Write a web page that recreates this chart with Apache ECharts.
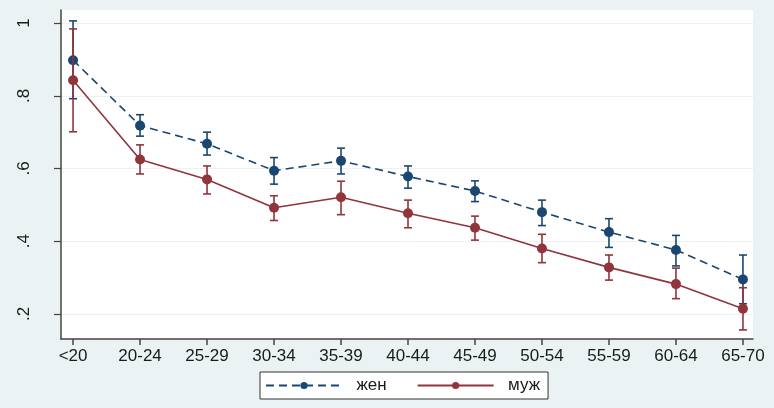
<!DOCTYPE html>
<html><head><meta charset="utf-8">
<script src="https://cdn.jsdelivr.net/npm/echarts@6/dist/echarts.min.js"></script>
<style>html,body{margin:0;padding:0;background:#eaf2f3}#c{width:774px;height:408px}</style>
</head><body><div id="c"></div>
<script>
const categories = ['<20','20-24','25-29','30-34','35-39','40-44','45-49','50-54','55-59','60-64','65-70'];
const yTicks = [0.2, 0.4, 0.6, 0.8, 1];
const yTickLabels = ['.2', '.4', '.6', '.8', '1'];
const seriesNames = ['жен', 'муж'];
const femMean = [0.898, 0.718, 0.668, 0.594, 0.621, 0.578, 0.538, 0.480, 0.425, 0.376, 0.295];
const femHigh = [1.006, 0.748, 0.700, 0.630, 0.656, 0.607, 0.566, 0.513, 0.462, 0.416, 0.362];
const femLow  = [0.792, 0.689, 0.637, 0.557, 0.585, 0.546, 0.509, 0.443, 0.383, 0.332, 0.228];
const maleMean = [0.843, 0.625, 0.570, 0.492, 0.521, 0.477, 0.437, 0.380, 0.328, 0.282, 0.214];
const maleHigh = [0.984, 0.665, 0.607, 0.525, 0.565, 0.513, 0.469, 0.419, 0.362, 0.326, 0.272];
const maleLow  = [0.701, 0.585, 0.530, 0.457, 0.473, 0.437, 0.403, 0.341, 0.293, 0.242, 0.156];

const BLUE = '#1a476f', RED = '#90353b';
const FONT = '"Liberation Sans", Arial, sans-serif';
// category positions on the x value axis: 1..11
const pos = categories.map((c, i) => i + 1);

function errRender(color) {
  return function (params, api) {
    const x = api.value(0);
    const lo = api.coord([x, api.value(1)]);
    const hi = api.coord([x, api.value(2)]);
    const w = 4;
    const st = { stroke: color, lineWidth: 1.6 };
    return { type: 'group', children: [
      { type: 'line', shape: { x1: lo[0], y1: lo[1], x2: hi[0], y2: hi[1] }, style: st },
      { type: 'line', shape: { x1: lo[0] - w, y1: lo[1], x2: lo[0] + w, y2: lo[1] }, style: st },
      { type: 'line', shape: { x1: hi[0] - w, y1: hi[1], x2: hi[0] + w, y2: hi[1] }, style: st }
    ]};
  };
}

const chart = echarts.init(document.getElementById('c'), null, { renderer: 'canvas' });
chart.setOption({
  backgroundColor: '#eaf2f3',
  animation: false,
  grid: { left: 61, right: 21, top: 10, bottom: 69, show: true, backgroundColor: '#ffffff', borderWidth: 0 },
  xAxis: {
    type: 'value', min: 0.82, max: 11.15,
    axisLine: { show: true, onZero: false, lineStyle: { color: '#444', width: 1.5 } },
    axisTick: { show: true, length: 6, customValues: pos, lineStyle: { color: '#444', width: 1.5 } },
    axisLabel: { customValues: pos, formatter: v => categories[Math.round(v) - 1], color: '#1a1a1a', fontSize: 17, fontFamily: FONT, margin: 9 },
    splitLine: { show: false }
  },
  yAxis: {
    type: 'value', min: 0.131, max: 1.036,
    axisLine: { show: true, onZero: false, lineStyle: { color: '#444', width: 1.5 } },
    axisTick: { show: true, length: 7, customValues: yTicks, lineStyle: { color: '#444', width: 1.2 } },
    axisLabel: { customValues: yTicks, rotate: 90, formatter: v => yTickLabels[yTicks.findIndex(t => Math.abs(t - v) < 1e-6)], color: '#1a1a1a', fontSize: 17, fontFamily: FONT, margin: 28 },
    splitLine: { show: true, lineStyle: { color: '#eaf2f3', width: 1.2 } }
  },
  legend: {
    data: seriesNames,
    left: 260, top: 372,
    orient: 'horizontal',
    backgroundColor: '#ffffff', borderColor: '#333', borderWidth: 1,
    padding: [5, 8, 5, 5],
    itemWidth: 76, itemHeight: 9, itemGap: 30,
    formatter: n => '  ' + n,
    textStyle: { fontSize: 17, fontFamily: FONT, color: '#1a1a1a' }
  },
  series: [
    { type: 'custom', name: 'err1', renderItem: errRender(BLUE), data: pos.map((p, i) => [p, femLow[i], femHigh[i]]), encode: { x: 0, y: [1, 2] }, z: 2 },
    { type: 'line', name: seriesNames[0], data: pos.map((p, i) => [p, femMean[i]]), symbol: 'circle', symbolSize: 10,
      itemStyle: { color: BLUE }, lineStyle: { color: BLUE, width: 1.6, type: [8, 5] }, z: 3 },
    { type: 'custom', name: 'err2', renderItem: errRender(RED), data: pos.map((p, i) => [p, maleLow[i], maleHigh[i]]), encode: { x: 0, y: [1, 2] }, z: 4 },
    { type: 'line', name: seriesNames[1], data: pos.map((p, i) => [p, maleMean[i]]), symbol: 'circle', symbolSize: 10,
      itemStyle: { color: RED }, lineStyle: { color: RED, width: 1.6 }, z: 5 }
  ]
});
</script></body></html>
